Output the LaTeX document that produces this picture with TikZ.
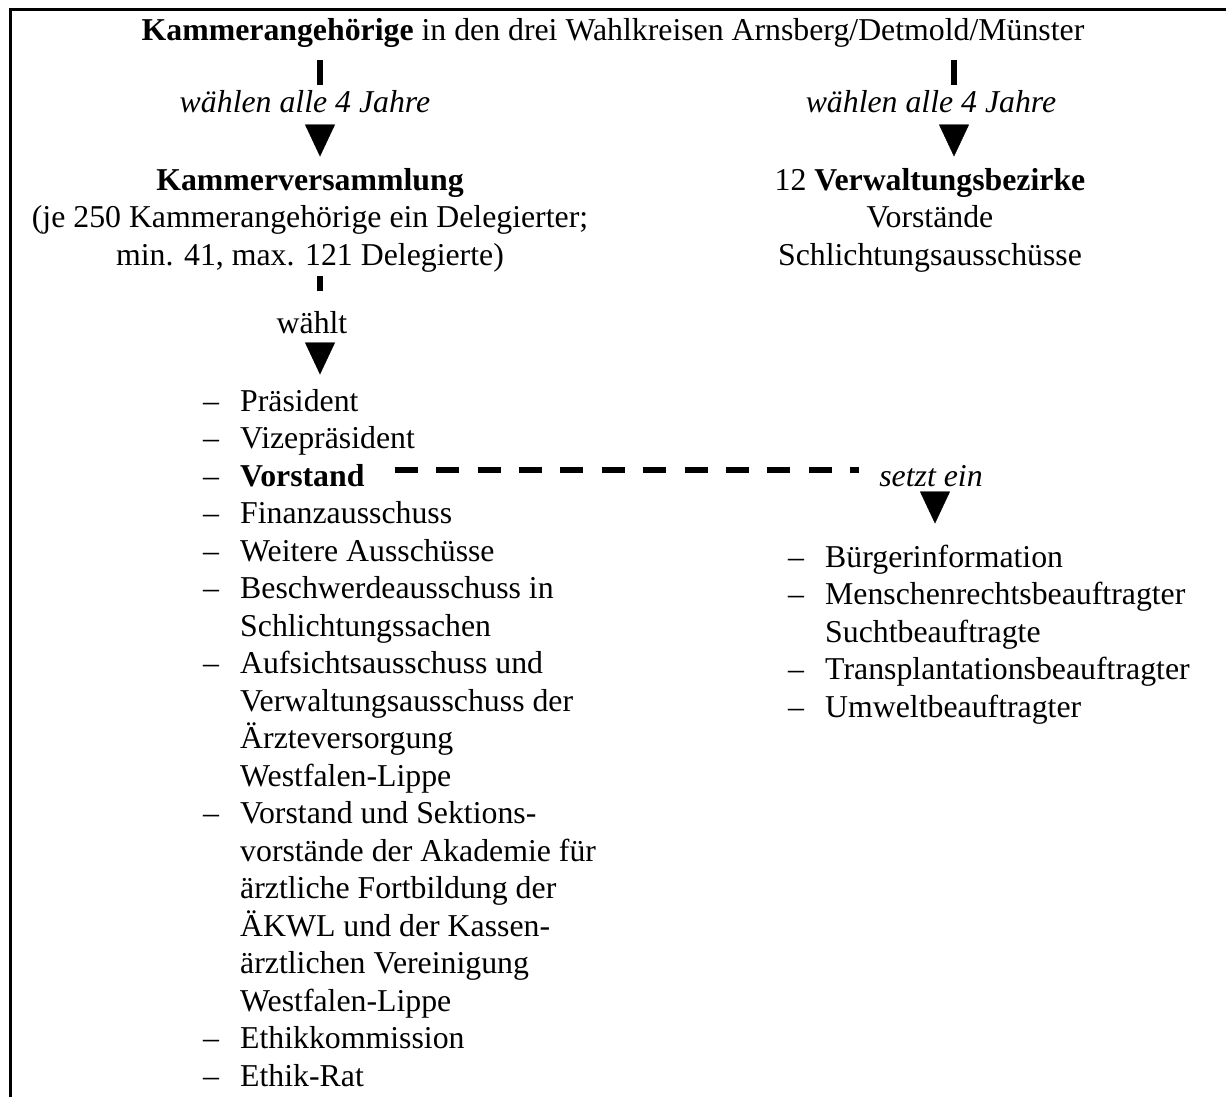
\documentclass[tikz,border=0pt]{standalone}
\usepackage{fontspec}
\setmainfont{Liberation Serif}
\usetikzlibrary{arrows.meta}
\newcommand{\strich}{\makebox[37pt][l]{--}}
\newcommand{\mehrzeilig}[1]{\parbox[t]{420pt}{\hangindent=37pt\hangafter=1\strich#1}}
\begin{document}
\begin{tikzpicture}[x=1pt, y=-1pt,
    font=\fontsize{31.8}{37.5}\selectfont,
    every node/.style={inner sep=0pt},
    stub/.style={line width=5.5pt},
    spitze/.style={-{Triangle[width=30pt,length=32pt]}},
    strichlinie/.style={line width=6pt, dash pattern=on 23pt off 18.4pt},
    eintrag/.style={anchor=base west},
    block/.style={anchor=north, align=center}]
  \useasboundingbox (0,0) rectangle (1226,1097);
  % Rahmen oben und links
  \draw[line width=3pt] (10,1097) -- (10,10) -- (1226,10);

  \node[anchor=base] (titel) at (613,41) {\textbf{Kammerangehörige} in den drei Wahlkreisen Arnsberg/Detmold/Münster};
  \node[anchor=base] (wahlL) at (305,113) {\textit{wählen alle 4 Jahre}};
  \node[anchor=base] (wahlR) at (931,113) {\textit{wählen alle 4 Jahre}};
  \node[block] (kvers) at (310,168) {\textbf{Kammerversammlung}\\(je 250 Kammerangehörige ein Delegierter;\\min. 41, max. 121 Delegierte)};
  \node[block] (bezirke) at (930,168) {12 \textbf{Verwaltungsbezirke}\\Vorstände\\Schlichtungsausschüsse};
  \node[anchor=base] (waehlt) at (312,333) {wählt};

  % gewaehlte Organe
  \node[eintrag] (praesident) at (203,411) {\strich Präsident};
  \node[eintrag] (vize) at (203,448.5) {\strich Vizepräsident};
  \node[eintrag] (vorstand) at (203,486) {\strich\textbf{Vorstand}};
  \node[eintrag] (finanz) at (203,523.5) {\strich Finanzausschuss};
  \node[eintrag] (weitere) at (203,561) {\strich Weitere Ausschüsse};
  \node[eintrag] (beschwerde) at (203,598.5) {\mehrzeilig{Beschwerdeausschuss in\\Schlichtungssachen}};
  \node[eintrag] (aufsicht) at (203,673.5) {\mehrzeilig{Aufsichtsausschuss und\\Verwaltungsausschuss der\\Ärzteversorgung\\Westfalen-Lippe}};
  \node[eintrag] (akademie) at (203,823.5) {\mehrzeilig{Vorstand und Sektions-\\vorstände der Akademie für\\ärztliche Fortbildung der\\ÄKWL und der Kassen-\\ärztlichen Vereinigung\\Westfalen-Lippe}};
  \node[eintrag] (ethikkom) at (203,1048.5) {\strich Ethikkommission};
  \node[eintrag] (ethikrat) at (203,1086) {\strich Ethik-Rat};

  % vom Vorstand eingesetzt
  \node[anchor=base] (setzt) at (931,486) {\textit{setzt ein}};
  \node[eintrag] (buerger) at (788,567) {\strich Bürgerinformation};
  \node[eintrag] (menschen) at (788,604.5) {\mehrzeilig{Menschenrechtsbeauftragter\\Suchtbeauftragte}};
  \node[eintrag] (transpl) at (788,679.5) {\strich Transplantationsbeauftragter};
  \node[eintrag] (umwelt) at (788,717) {\strich Umweltbeauftragter};

  \coordinate (achseL) at (320,0);
  \coordinate (achseR) at (954,0);
  \coordinate (achseS) at (935,0);
  \coordinate (vEnde) at ([yshift=5pt]vorstand.east);

  \draw[stub, shorten <=12pt, shorten >=6pt] (achseL |- titel.south) -- (achseL |- wahlL.north);
  \draw[stub, shorten <=12pt, shorten >=6pt] (achseR |- titel.south) -- (achseR |- wahlR.north);
  \draw[spitze] (achseL |- wahlL.south) ++(0,11) -- ++(0,32);
  \draw[spitze] (achseR |- wahlR.south) ++(0,11) -- ++(0,32);
  \draw[stub, shorten <=4pt, shorten >=20pt] (achseL |- kvers.south) -- (achseL |- waehlt.north);
  \draw[spitze] (achseL |- waehlt.south) ++(0,9) -- ++(0,32);
  \draw[strichlinie, shorten <=30pt, shorten >=20pt] (vEnde) -- (vEnde -| setzt.west);
  \draw[spitze] (achseS |- setzt.south) ++(0,5) -- ++(0,32);
\end{tikzpicture}
\end{document}
